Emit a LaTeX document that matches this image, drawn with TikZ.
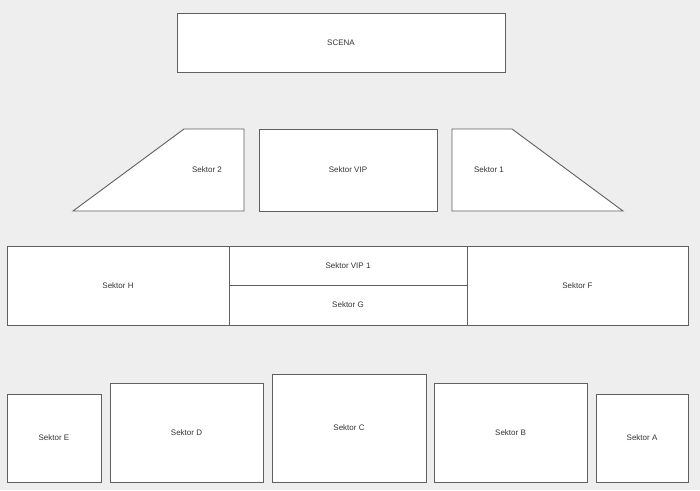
\documentclass[tikz,border=0pt]{standalone}
\usepackage{fontspec}
\setmainfont{Liberation Sans}
\usetikzlibrary{positioning}
\definecolor{bggray}{HTML}{EEEEEE}
\definecolor{edgegray}{HTML}{606060}
\definecolor{textgray}{HTML}{333333}
\begin{document}
\begin{tikzpicture}
  [
    x=1pt, y=-1pt,
    Sector/.style={rectangle, draw=edgegray, fill=white, line width=0.9pt, inner sep=0pt, font=\fontsize{8}{9}\selectfont, text=textgray},
    Slope/.style={draw=edgegray, fill=white, line width=0.9pt, line join=miter},
    Label/.style={inner sep=0pt, font=\fontsize{8}{9}\selectfont, text=textgray}
  ]
  \useasboundingbox[fill=bggray] (0,0) rectangle (700,490);

  % Stage and front sectors
  \node[Sector, minimum width=328pt, minimum height=59pt] (scena) at(341, 42.5) {SCENA};
  \draw[Slope] (73,211) -- (184,129) -- (244,129) -- (244,211) -- cycle;
  \node[Label] (s2) at(207, 170) {Sektor 2};
  \node[Sector, minimum width=178pt, minimum height=82pt] (vip) at(348, 170) {Sektor VIP};
  \draw[Slope] (452,129) -- (512,129) -- (623,211) -- (452,211) -- cycle;
  \node[Label] (s1) at(489, 170) {Sektor 1};

  % Middle row
  \node[Sector, minimum width=222pt, minimum height=79pt] (sh) at(118, 285.5) {Sektor H};
  \node[Sector, minimum width=238pt, minimum height=39pt] (vip1) at(348, 265.5) {Sektor VIP 1};
  \node[Sector, minimum width=238pt, minimum height=40pt] (sg) at(348, 305) {Sektor G};
  \node[Sector, minimum width=221pt, minimum height=79pt] (sf) at(577.5, 285.5) {Sektor F};

  % Back row
  \node[Sector, minimum width=94pt, minimum height=88pt] (se) at(54, 438) {Sektor E};
  \node[Sector, minimum width=153pt, minimum height=99pt] (sd) at(186.5, 432.5) {Sektor D};
  \node[Sector, minimum width=154pt, minimum height=108pt] (sc) at(349, 428) {Sektor C};
  \node[Sector, minimum width=153pt, minimum height=99pt] (sb) at(510.5, 432.5) {Sektor B};
  \node[Sector, minimum width=92pt, minimum height=88pt] (sa) at(642, 438) {Sektor A};

\end{tikzpicture}
\end{document}
